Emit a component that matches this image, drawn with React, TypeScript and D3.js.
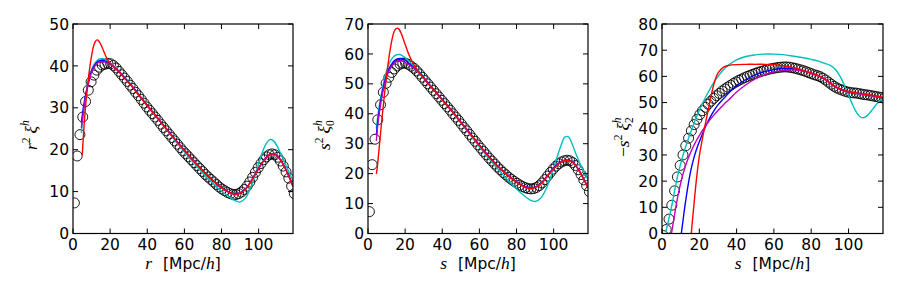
import React from "react";
import * as d3 from "d3";

// separation bins of the measured points (shared by all three panels)
const sepBins = [
  0.75, 2.25, 3.75, 5.25, 6.75, 8.25, 9.75, 11.25, 12.75, 14.25,
  15.75, 17.25, 18.75, 20.25, 21.75, 23.25, 24.75, 26.25, 27.75, 29.25,
  30.75, 32.25, 33.75, 35.25, 36.75, 38.25, 39.75, 41.25, 42.75, 44.25,
  45.75, 47.25, 48.75, 50.25, 51.75, 53.25, 54.75, 56.25, 57.75, 59.25,
  60.75, 62.25, 63.75, 65.25, 66.75, 68.25, 69.75, 71.25, 72.75, 74.25,
  75.75, 77.25, 78.75, 80.25, 81.75, 83.25, 84.75, 86.25, 87.75, 89.25,
  90.75, 92.25, 93.75, 95.25, 96.75, 98.25, 99.75, 101.25, 102.75, 104.25,
  105.75, 107.25, 108.75, 110.25, 111.75, 113.25, 114.75, 116.25, 117.75, 119.25,
];

const realSpacePoints = [
  7.3, 18.5, 23.6, 27.8, 31.5, 34.2, 36.2, 37.8, 39.0, 39.7,
  40.2, 40.4, 40.6, 40.5, 40.1, 39.5, 38.7, 37.9, 37.1, 36.3,
  35.4, 34.6, 33.7, 32.9, 32.0, 31.1, 30.2, 29.4, 28.6, 27.8,
  27.0, 26.1, 25.3, 24.5, 23.7, 22.9, 22.1, 21.3, 20.5, 19.7,
  19.0, 18.3, 17.6, 16.9, 16.2, 15.5, 14.8, 14.1, 13.5, 12.9,
  12.3, 11.7, 11.1, 10.6, 10.2, 9.8, 9.5, 9.3, 9.3, 9.5,
  9.9, 10.5, 11.3, 12.3, 13.4, 14.6, 15.7, 16.7, 17.6, 18.3,
  18.8, 19.0, 18.8, 18.2, 17.3, 16.1, 14.7, 13.2, 11.3, 9.5,
];

const monopolePoints = [
  7.3, 23.0, 31.5, 38.0, 43.0, 47.2, 50.2, 52.2, 53.8, 55.0,
  56.0, 56.6, 56.9, 56.9, 56.5, 55.9, 55.2, 54.3, 53.3, 52.2,
  51.1, 50.0, 48.9, 47.8, 46.7, 45.6, 44.5, 43.4, 42.3, 41.2,
  40.0, 38.9, 37.8, 36.6, 35.4, 34.3, 33.1, 31.9, 30.8, 29.6,
  28.5, 27.4, 26.3, 25.2, 24.2, 23.2, 22.2, 21.3, 20.4, 19.6,
  18.8, 18.1, 17.4, 16.8, 16.2, 15.7, 15.3, 15.0, 14.9, 15.0,
  15.4, 16.0, 16.9, 18.0, 19.2, 20.4, 21.5, 22.5, 23.3, 23.9,
  24.3, 24.5, 24.3, 23.7, 22.7, 21.3, 19.7, 17.9, 16.0, 14.0,
];

const quadrupolePoints = [
  -0.8, 1.5, 5.5, 10.8, 16.3, 21.6, 26.0, 30.0, 33.5, 36.4,
  39.2, 41.6, 43.6, 45.4, 46.9, 48.2, 49.4, 50.5, 51.6, 52.6,
  53.5, 54.4, 55.2, 55.9, 56.6, 57.3, 57.9, 58.5, 59.0, 59.5,
  60.0, 60.4, 60.8, 61.2, 61.6, 61.9, 62.2, 62.5, 62.8, 63.0,
  63.2, 63.4, 63.5, 63.6, 63.6, 63.5, 63.3, 63.1, 62.8, 62.5,
  62.2, 61.8, 61.4, 61.0, 60.6, 60.3, 59.9, 59.3, 58.6, 57.8,
  57.0, 56.2, 55.6, 55.1, 54.7, 54.3, 54.0, 53.8, 53.7, 53.6,
  53.4, 53.2, 53.0, 52.9, 52.7, 52.5, 52.3, 52.1, 51.9, 51.7,
];

// separations at which the model curves are sampled
const modelSep = [
  2, 3, 4, 4.5, 5, 5.5, 6, 7, 8, 9,
  10, 11, 12, 13, 14, 15, 16, 17, 18, 19,
  20, 22, 24, 26, 28, 30, 33, 36, 40, 45,
  50, 55, 60, 65, 70, 75, 80, 84, 87, 90,
  93, 96, 99, 102, 104, 106, 108, 110, 112, 114,
  116, 118.5,
];

type V = number | null;
const N: V = null;

const realCyan: V[] = [
  N, N, N, 24.0, 26.2, 28.3, 30.2, 33.2, 35.6, 37.5,
  39.0, 40.1, 40.8, 41.3, 41.6, 41.7, 41.7, 41.6, 41.4, 41.1,
  40.7, 40.0, 39.1, 38.2, 37.2, 36.2, 34.6, 32.9, 30.6, 27.8,
  25.0, 22.2, 19.5, 16.9, 14.4, 12.1, 10.1, 8.8, 7.9, 7.5,
  8.5, 11.3, 15.3, 19.4, 21.4, 22.4, 22.1, 20.8, 19.0, 17.0,
  15.0, 12.5,
];
const realBlue: V[] = [
  N, N, N, 26.5, 28.2, 29.8, 31.2, 33.6, 35.6, 37.3,
  38.7, 39.7, 40.4, 40.9, 41.2, 41.3, 41.3, 41.2, 41.0, 40.8,
  40.5, 39.8, 39.0, 38.1, 37.1, 36.1, 34.5, 32.8, 30.6, 27.9,
  25.2, 22.5, 19.9, 17.4, 15.0, 12.8, 11.0, 9.9, 9.5, 9.7,
  10.7, 12.6, 14.9, 17.0, 18.1, 18.9, 19.1, 18.6, 17.5, 15.9,
  14.0, 11.3,
];
const realMagenta: V[] = [
  N, N, N, 25.2, 27.0, 28.7, 30.3, 33.0, 35.2, 37.0,
  38.4, 39.4, 40.1, 40.6, 40.9, 41.0, 41.0, 40.9, 40.8, 40.6,
  40.4, 39.7, 38.9, 38.0, 37.0, 36.0, 34.4, 32.7, 30.5, 27.8,
  25.1, 22.4, 19.8, 17.3, 14.9, 12.7, 10.9, 9.8, 9.4, 9.6,
  10.6, 12.5, 14.8, 16.9, 18.0, 18.8, 19.0, 18.5, 17.4, 15.8,
  13.9, 11.2,
];
const realRed: V[] = [
  N, N, N, N, 18.7, 22.5, 26.0, 31.5, 35.8, 39.5,
  42.4, 44.6, 45.8, 46.2, 45.9, 45.1, 44.1, 43.0, 42.0, 41.2,
  40.7, 39.8, 38.9, 38.0, 37.0, 36.0, 34.4, 32.7, 30.5, 27.8,
  25.1, 22.4, 19.8, 17.3, 14.9, 12.7, 10.9, 9.8, 9.4, 9.6,
  10.6, 12.5, 14.8, 16.9, 18.0, 18.8, 19.0, 18.5, 17.4, 15.8,
  13.9, 11.2,
];

const monoCyan: V[] = [
  N, N, N, 35.1, 37.8, 40.2, 42.3, 46.0, 49.2, 52.0,
  54.3, 56.1, 57.5, 58.5, 59.2, 59.6, 59.8, 59.8, 59.6, 59.2,
  58.7, 57.6, 56.4, 55.1, 53.8, 52.3, 50.0, 47.8, 44.8, 41.0,
  37.0, 33.0, 29.0, 25.1, 21.5, 18.0, 14.9, 12.7, 11.3, 10.7,
  11.8, 15.0, 20.0, 25.8, 29.5, 32.2, 32.3, 29.8, 26.6, 23.6,
  21.0, 18.0,
];
const monoBlue: V[] = [
  N, N, N, 33.0, 36.0, 38.5, 41.0, 44.8, 48.0, 50.7,
  52.8, 54.5, 55.8, 56.8, 57.6, 58.1, 58.4, 58.5, 58.5, 58.3,
  57.9, 56.9, 55.8, 54.6, 53.6, 52.1, 49.8, 47.7, 44.8, 41.2,
  37.3, 33.5, 29.6, 25.9, 22.5, 19.7, 17.3, 15.8, 15.3, 15.5,
  16.7, 18.8, 21.2, 23.1, 24.0, 24.5, 24.5, 24.1, 22.7, 20.8,
  18.5, 15.4,
];
const monoMagenta: V[] = [
  N, N, N, 31.0, 34.5, 37.5, 40.0, 44.0, 47.3, 50.0,
  52.2, 53.9, 55.1, 56.1, 56.8, 57.3, 57.6, 57.7, 57.7, 57.5,
  57.2, 56.4, 55.5, 54.4, 53.3, 51.9, 49.7, 47.6, 44.7, 41.1,
  37.2, 33.4, 29.5, 25.8, 22.4, 19.6, 17.2, 15.7, 15.2, 15.4,
  16.6, 18.7, 21.1, 23.0, 23.9, 24.4, 24.4, 24.0, 22.6, 20.7,
  18.4, 15.3,
];
const monoRed: V[] = [
  N, N, N, 19.9, 22.0, 25.2, 28.5, 35.0, 41.3, 47.2,
  52.6, 57.5, 61.7, 65.0, 67.3, 68.4, 68.6, 68.0, 66.7, 65.0,
  63.2, 59.8, 57.2, 55.1, 53.4, 51.9, 49.6, 47.5, 44.6, 41.0,
  37.1, 33.3, 29.4, 25.7, 22.3, 19.5, 17.1, 15.6, 15.1, 15.3,
  16.5, 18.6, 21.0, 22.9, 23.8, 24.3, 24.3, 23.9, 22.5, 20.6,
  18.3, 15.2,
];

const quadCyan: V[] = [
  0.5, 3.5, 6.6, 8.2, 9.9, 11.6, 13.4, 17.2, 20.7, 23.8,
  26.6, 29.2, 31.6, 33.8, 35.9, 37.9, 39.9, 41.8, 43.7, 45.4,
  47.0, 50.1, 52.9, 55.5, 57.9, 59.9, 62.6, 64.5, 66.3, 67.6,
  68.2, 68.5, 68.5, 68.3, 67.8, 67.2, 66.5, 65.8, 65.0, 64.3,
  62.6, 59.3, 54.5, 49.5, 46.6, 44.7, 44.2, 45.0, 46.6, 48.4,
  50.2, 51.8,
];
const quadBlue: V[] = [
  N, N, N, N, N, N, N, N, N, N,
  -2.0, 3.5, 9.0, 14.0, 18.5, 22.5, 25.8, 28.6, 31.0, 33.1,
  35.0, 38.6, 41.8, 44.6, 47.0, 49.1, 51.5, 53.8, 56.4, 58.8,
  60.6, 61.8, 62.6, 63.0, 62.9, 62.3, 61.2, 60.2, 59.1, 57.5,
  56.0, 55.0, 54.3, 53.8, 53.6, 53.4, 53.2, 53.0, 52.8, 52.5,
  52.2, 51.8,
];
const quadMagenta: V[] = [
  N, N, N, N, -0.5, 1.8, 4.0, 8.3, 12.4, 16.0,
  19.2, 22.0, 24.4, 26.6, 28.6, 30.4, 32.0, 33.5, 34.9, 36.2,
  37.4, 39.7, 41.8, 43.7, 45.4, 47.0, 49.2, 51.2, 54.0, 56.8,
  59.0, 60.6, 61.7, 62.3, 62.5, 62.1, 61.1, 60.1, 59.0, 57.4,
  55.9, 54.9, 54.2, 53.7, 53.5, 53.3, 53.1, 52.9, 52.7, 52.4,
  52.1, 51.7,
];
const quadRed: V[] = [
  N, N, N, N, N, N, N, N, N, N,
  N, N, N, N, N, -6.5, 2.5, 10.0, 17.5, 24.0,
  29.5, 37.5, 44.5, 51.5, 57.5, 61.2, 63.5, 64.2, 64.5, 64.6,
  64.6, 64.6, 64.5, 64.1, 63.4, 62.5, 61.3, 60.3, 59.2, 57.6,
  56.1, 55.1, 54.4, 53.9, 53.7, 53.5, 53.3, 53.1, 52.9, 52.6,
  52.3, 51.9,
];

const xTicks = [0, 20, 40, 60, 80, 100];
const realYTicks = [0, 10, 20, 30, 40, 50];
const monoYTicks = [0, 10, 20, 30, 40, 50, 60, 70];
const quadYTicks = [0, 10, 20, 30, 40, 50, 60, 70, 80];

const TOP = 24;
const BOTTOM = 233.5;
const XMAX = 118.5;
const SANS = "DejaVu Sans";
const MATH = "Liberation Serif";
const FS = 15.5;

const colors = { c: "#00bfbf", b: "#0000ff", m: "#bf00bf", r: "#ff0000" };

const M = ({ children, size = 17.5 }: any) => (
  <tspan fontFamily={MATH} fontStyle="italic" fontSize={size}>
    {children}
  </tspan>
);

function YLabel({ x, y, minus, v, sub }: any) {
  return (
    <text transform={`translate(${x},${y}) rotate(-90)`} fontFamily={MATH} fontSize={17.5}>
      {minus ? <tspan fontStyle="normal">{"\u2212"}</tspan> : null}
      <M>{v}</M>
      <tspan dy={-7} fontSize={11.5}>2</tspan>
      <tspan dy={7} dx={4} fontStyle="italic">{"\u03be"}</tspan>
      {sub ? (
        <>
          <tspan dy={4} fontSize={11.5}>{sub}</tspan>
          <tspan dy={-12} dx={-5.8} fontSize={11.5} fontStyle="italic">h</tspan>
        </>
      ) : (
        <tspan dy={-8} fontSize={11.5} fontStyle="italic">h</tspan>
      )}
    </text>
  );
}

function Panel({ id, left, right, yMax, yTicks, points, lines, xVar, label }: any) {
  const x = d3.scaleLinear().domain([0, XMAX]).range([left, right]);
  const y = d3.scaleLinear().domain([0, yMax]).range([BOTTOM, TOP]);
  const line = d3
    .line<V>()
    .defined((d) => d != null)
    .x((d, i) => x(modelSep[i]))
    .y((d) => y(d as number))
    .curve(d3.curveCatmullRom.alpha(0.5));

  return (
    <g>
      <defs>
        <clipPath id={id}>
          <rect x={left} y={TOP} width={right - left} height={BOTTOM - TOP} />
        </clipPath>
      </defs>
      <g clipPath={`url(#${id})`}>
        {points.map((v: number, i: number) => (
          <circle key={i} cx={x(sepBins[i])} cy={y(v)} r={5} fill="none" stroke="#000" strokeWidth={0.9} />
        ))}
        {lines.map((l: any, i: number) => (
          <path key={i} d={line(l.values) || ""} fill="none" stroke={l.color} strokeWidth={1.4} />
        ))}
      </g>
      <rect x={left} y={TOP} width={right - left} height={BOTTOM - TOP} fill="none" stroke="#000" strokeWidth={1.2} />
      {xTicks.map((t) => (
        <g key={"x" + t}>
          <line x1={x(t)} x2={x(t)} y1={BOTTOM} y2={BOTTOM - 5} stroke="#000" />
          <line x1={x(t)} x2={x(t)} y1={TOP} y2={TOP + 5} stroke="#000" />
          <text x={x(t)} y={BOTTOM + 16} textAnchor="middle" fontFamily={SANS} fontSize={FS}>
            {t}
          </text>
        </g>
      ))}
      {yTicks.map((t: number) => (
        <g key={"y" + t}>
          <line x1={left} x2={left + 5} y1={y(t)} y2={y(t)} stroke="#000" />
          <line x1={right} x2={right - 5} y1={y(t)} y2={y(t)} stroke="#000" />
          <text x={left - 4} y={y(t) + 5.6} textAnchor="end" fontFamily={SANS} fontSize={FS}>
            {t}
          </text>
        </g>
      ))}
      <text x={(left + right) / 2} y={269} textAnchor="middle" fontFamily={SANS} fontSize={FS}>
        <M>{xVar}</M>
        <tspan dx={11}>[Mpc/</tspan>
        <M>h</M>
        <tspan>]</tspan>
      </text>
      {label}
    </g>
  );
}

export default function App() {
  const mk = (c: V[], b: V[], m: V[], r: V[]) => [
    { color: colors.c, values: c },
    { color: colors.b, values: b },
    { color: colors.m, values: m },
    { color: colors.r, values: r },
  ];
  return (
    <svg width={900} height={300} style={{ position: "absolute", left: 0, top: 0, background: "#fff" }}>
      <rect width={900} height={300} fill="#fff" />
      <Panel
        id="p1"
        left={73}
        right={293}
        yMax={50}
        yTicks={realYTicks}
        points={realSpacePoints}
        lines={mk(realCyan, realBlue, realMagenta, realRed)}
        xVar="r"
        label={<YLabel x={37} y={150} v="r" />}
      />
      <Panel
        id="p2"
        left={368}
        right={588}
        yMax={70}
        yTicks={monoYTicks}
        points={monopolePoints}
        lines={mk(monoCyan, monoBlue, monoMagenta, monoRed)}
        xVar="s"
        label={<YLabel x={330} y={150} v="s" sub="0" />}
      />
      <Panel
        id="p3"
        left={662}
        right={883}
        yMax={80}
        yTicks={quadYTicks}
        points={quadrupolePoints}
        lines={mk(quadCyan, quadBlue, quadMagenta, quadRed)}
        xVar="s"
        label={<YLabel x={629} y={157} v="s" sub="2" minus />}
      />
    </svg>
  );
}
